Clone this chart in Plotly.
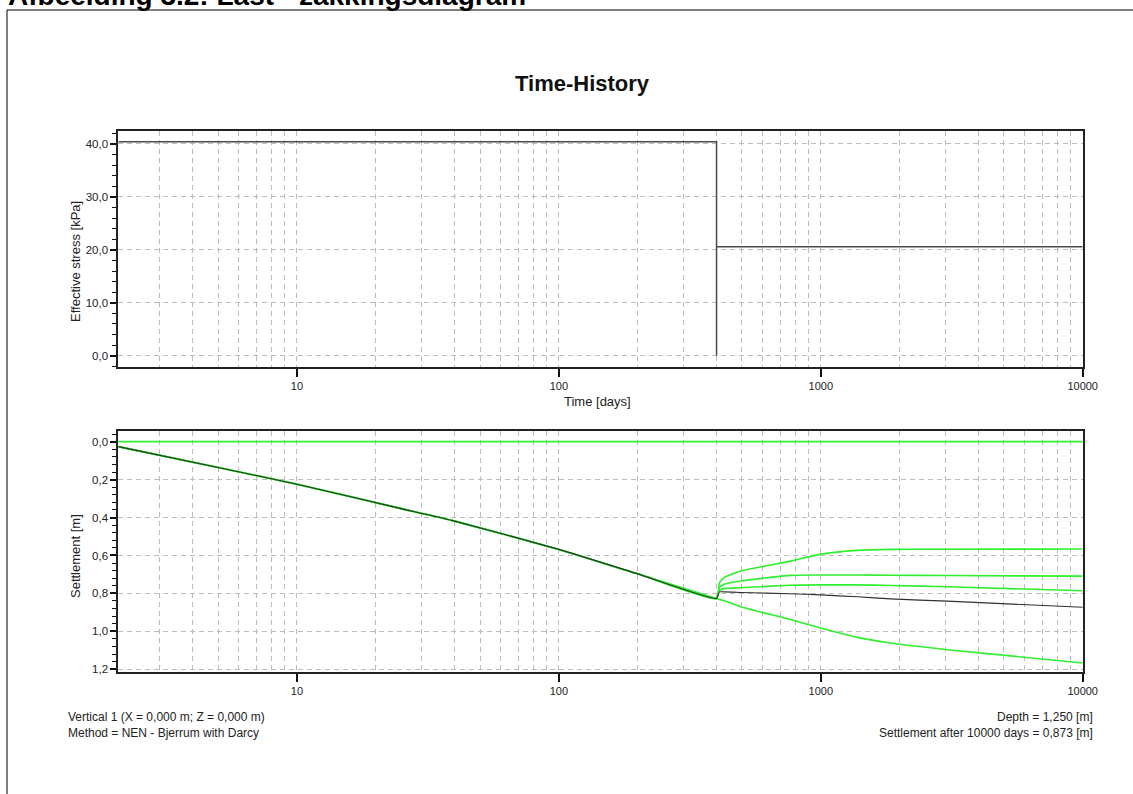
import plotly.graph_objects as go

W, H = 1133, 794

# ---------------- data ----------------
# top panel: effective stress history
stress_t = [2.08, 400, 400, 400, 10000]
stress_kpa = [40.4, 40.4, 0.0, 20.6, 20.6]

# bottom panel: settlement during loading (all curves coincide)
load_t = [2.08, 5, 10, 25, 39, 100, 200, 400]
load_s = [0.026, 0.136, 0.224, 0.353, 0.415, 0.568, 0.697, 0.827]

# after unloading (t >= 400 days)
after_t = [400, 410, 426, 494, 766, 1000, 1382, 1845, 3041, 10000]
green_a = [0.827, 0.746, 0.718, 0.682, 0.630, 0.593, 0.573, 0.568, 0.567, 0.566]
green_b = [0.827, 0.770, 0.753, 0.735, 0.705, 0.703, 0.703, 0.704, 0.706, 0.709]
green_c = [0.827, 0.785, 0.775, 0.770, 0.757, 0.755, 0.755, 0.758, 0.765, 0.786]
black_main = [0.827, 0.792, 0.792, 0.795, 0.802, 0.808, 0.818, 0.829, 0.841, 0.873]
green_d = [0.827, 0.832, 0.838, 0.870, 0.938, 0.982, 1.032, 1.062, 1.097, 1.167]

zero_t = [2.08, 10000]
zero_s = [0.0, 0.0]

x_tickvals = [10, 100, 1000, 10000]
x_ticktext = ["10", "100", "1000", "10000"]
x_minor = [m * d for d in (1, 10, 100, 1000) for m in range(2, 10)]
stress_tickvals = [0, 10, 20, 30, 40]
stress_ticktext = ["0,0", "10,0", "20,0", "30,0", "40,0"]
settle_tickvals = [0, 0.2, 0.4, 0.6, 0.8, 1.0, 1.2]
settle_ticktext = ["0,0", "0,2", "0,4", "0,6", "0,8", "1,0", "1,2"]

# ---------------- geometry helpers ----------------
def px(x):
    return x / W

def py(y):
    return 1 - y / H

GREEN = "#2ff02f"
GRID = "#bdbdbd"
FONT = "Liberation Sans, Arial, sans-serif"

fig = go.Figure()

fig.add_trace(go.Scatter(x=stress_t, y=stress_kpa, mode="lines",
                         line=dict(color="#4a4a4a", width=1.5),
                         xaxis="x", yaxis="y", showlegend=False))

fig.add_trace(go.Scatter(x=zero_t, y=zero_s, mode="lines",
                         line=dict(color=GREEN, width=1.8),
                         xaxis="x2", yaxis="y2", showlegend=False))
for g in (green_a, green_b, green_c, green_d):
    fig.add_trace(go.Scatter(x=load_t + after_t[1:], y=load_s + g[1:], mode="lines",
                             line=dict(color=GREEN, width=1.6, shape="spline", smoothing=0.5),
                             xaxis="x2", yaxis="y2", showlegend=False))
fig.add_trace(go.Scatter(x=load_t + after_t[1:], y=load_s + black_main[1:], mode="lines",
                         line=dict(color="#303030", width=1.1, shape="spline", smoothing=0.5),
                         xaxis="x2", yaxis="y2", showlegend=False))

xlog_range = [0.318, 4.0]

def xaxis_cfg(anchor):
    return dict(type="log", range=xlog_range, domain=[px(118.3), px(1082.7)], anchor=anchor,
                tickmode="array", tickvals=x_tickvals, ticktext=x_ticktext,
                ticks="outside", ticklen=8, tickwidth=1.5, tickcolor="#111",
                showgrid=True, gridcolor=GRID, griddash="5px,4px", gridwidth=1,
                minor=dict(tickmode="array", tickvals=x_minor, showgrid=True,
                           gridcolor=GRID, griddash="5px,4px", gridwidth=1, ticks=""),
                showline=True, linecolor="#222", linewidth=1.8, mirror=True,
                zeroline=False, automargin=False,
                tickfont=dict(family=FONT, size=11, color="#222"))

def yaxis_cfg(anchor, dom, rng, tv, tt, mdt):
    return dict(range=rng, domain=dom, anchor=anchor,
                tickmode="array", tickvals=tv, ticktext=tt,
                ticks="outside", ticklen=6, tickwidth=1.5, tickcolor="#111",
                showgrid=True, gridcolor=GRID, griddash="5px,4px", gridwidth=1,
                minor=dict(tickmode="linear", tick0=0, dtick=mdt, ticks="outside",
                           ticklen=4, tickwidth=1, tickcolor="#111", showgrid=False),
                showline=True, linecolor="#222", linewidth=1.8, mirror=True,
                zeroline=False, automargin=False,
                tickfont=dict(family=FONT, size=11.5, color="#222"))

annotations = [
    dict(text="<b>Afbeelding 3.2: Last - zakkingsdiagram</b>", x=px(6), y=py(13),
         xanchor="left", yanchor="bottom", font=dict(family=FONT, size=28, color="#000")),
    dict(text="<b>Time-History</b>", x=px(582), y=py(83), xanchor="center", yanchor="middle",
         font=dict(family=FONT, size=22, color="#111")),
    dict(text="Effective stress [kPa]", x=px(75), y=py(262), xanchor="center", yanchor="middle",
         textangle=-90, font=dict(family=FONT, size=13, color="#222")),
    dict(text="Time [days]", x=px(598), y=py(401), xanchor="center", yanchor="middle",
         font=dict(family=FONT, size=13, color="#222")),
    dict(text="Settlement [m]", x=px(75), y=py(556), xanchor="center", yanchor="middle",
         textangle=-90, font=dict(family=FONT, size=13, color="#222")),
    dict(text="Vertical 1 (X = 0,000 m; Z = 0,000 m)", x=px(66), y=py(717), xanchor="left",
         yanchor="middle", font=dict(family=FONT, size=12, color="#222")),
    dict(text="Method = NEN - Bjerrum with Darcy", x=px(66), y=py(733), xanchor="left",
         yanchor="middle", font=dict(family=FONT, size=12, color="#222")),
    dict(text="Depth = 1,250 [m]", x=px(1095), y=py(717), xanchor="right",
         yanchor="middle", font=dict(family=FONT, size=12, color="#222")),
    dict(text="Settlement after 10000 days = 0,873 [m]", x=px(1095), y=py(733), xanchor="right",
         yanchor="middle", font=dict(family=FONT, size=12, color="#222")),
]
for a in annotations:
    a.update(xref="paper", yref="paper", showarrow=False)

shapes = [
    dict(type="line", xref="paper", yref="paper", x0=px(7), x1=px(7), y0=py(10), y1=py(800),
         line=dict(color="#000", width=1)),
    dict(type="line", xref="paper", yref="paper", x0=px(7), x1=px(1140), y0=py(10), y1=py(10),
         line=dict(color="#000", width=1)),
]

fig.update_layout(
    width=W, height=H, autosize=False, margin=dict(l=0, r=0, t=0, b=0),
    paper_bgcolor="white", plot_bgcolor="white",
    font=dict(family=FONT, color="#222"),
    xaxis=xaxis_cfg("y"),
    yaxis=yaxis_cfg("x", [py(367.3), py(130.7)], [-2.19, 42.51],
                    stress_tickvals, stress_ticktext, 2),
    xaxis2=xaxis_cfg("y2"),
    yaxis2=yaxis_cfg("x2", [py(671.7), py(430.7)], [1.213, -0.058],
                     settle_tickvals, settle_ticktext, 0.04),
    annotations=annotations, shapes=shapes, showlegend=False,
)

fig.write_html("out.html", config={"responsive": False})
